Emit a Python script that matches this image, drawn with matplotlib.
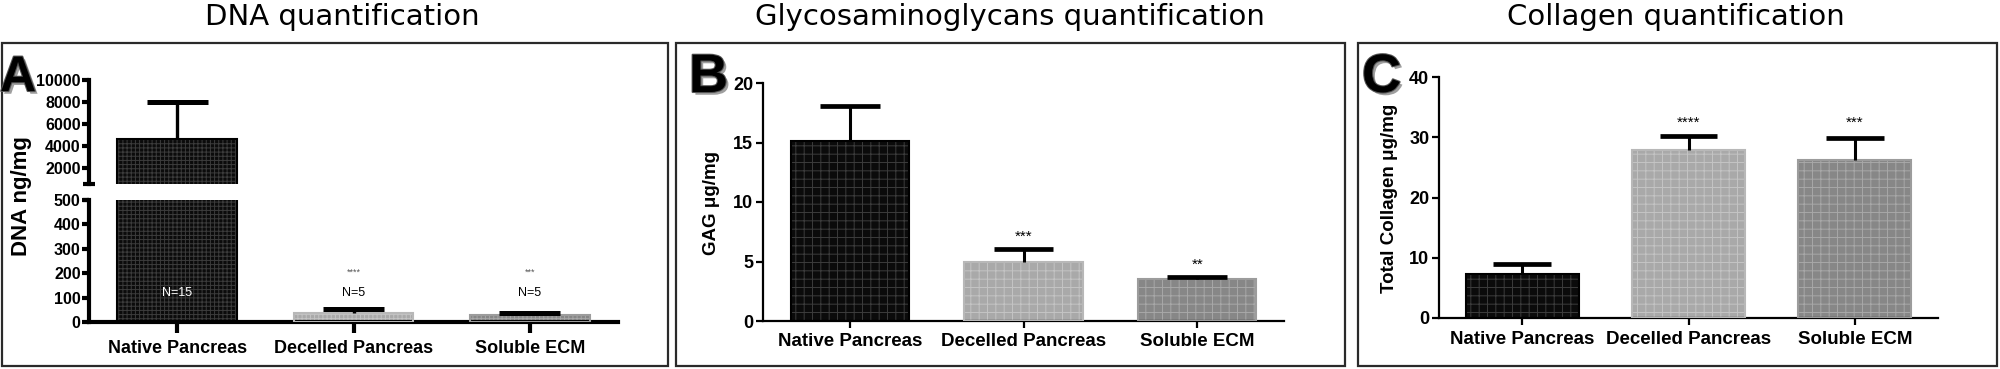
import matplotlib
matplotlib.use("Agg")
import matplotlib.pyplot as plt
import matplotlib.patheffects as pe
from matplotlib import font_manager
import numpy as np

plt.rcParams['font.family'] = ['Liberation Sans', 'DejaVu Sans']
plt.rcParams['hatch.linewidth'] = 0.7

# panel A uses a narrow bold face in the original; use it only if a bold one is installed
narrow_bold = [f.name for f in font_manager.fontManager.ttflist
               if f.name == 'Liberation Sans Narrow' and f.weight in ('bold', 700)]
if narrow_bold:
    NARROW, A_FS, A_XFS = 'Liberation Sans Narrow', 14.5, 14.5
else:
    NARROW, A_FS, A_XFS = 'Liberation Sans', 11.5, 13

groups = ["Native Pancreas", "Decelled Pancreas", "Soluble ECM"]

# DNA (ng/mg)
dna_mean = [4600, 38, 30]
dna_err = [3400, 16, 8]
dna_n = ["N=15", "N=5", "N=5"]
dna_stars = ["", "****", "***"]

# GAG (ug/mg)
gag_mean = [15.1, 4.93, 3.53]
gag_err = [2.95, 1.14, 0.14]
gag_stars = ["", "***", "**"]

# Collagen (ug/mg)
col_mean = [7.3, 27.9, 26.2]
col_err = [1.7, 2.3, 3.6]
col_stars = ["", "****", "***"]

fills = ['#0b0b0b', '#a9a9a9', '#878787']
grids = ['#3c3c3c', '#c4c4c4', '#a8a8a8']
borders = ['#000000', '#b8b8b8', '#9c9c9c']

W, H = 2000, 369
fig = plt.figure(figsize=(W / 100, H / 100), dpi=100)


def px_axes(x0, y0, x1, y1):
    return fig.add_axes([x0 / W, 1 - y1 / H, (x1 - x0) / W, (y1 - y0) / H])


def box(x0, y0, x1, y1):
    fig.add_artist(plt.Rectangle((x0 / W, 1 - y1 / H), (x1 - x0) / W, (y1 - y0) / H,
                                 transform=fig.transFigure, fill=False,
                                 edgecolor='#2a2a2a', lw=1.6))


def draw_bars(ax, means, errs, hatch, bw=0.68, cap=0.345, elw=2.2):
    x = np.arange(len(means))
    for i in x:
        ax.bar(i, means[i], width=bw, color=fills[i], edgecolor=grids[i],
               hatch=hatch, linewidth=0, zorder=2)
        ax.bar(i, means[i], width=bw, fill=False, edgecolor=borders[i],
               linewidth=1.5, zorder=3)
    tops = np.array(means) + np.array(errs)
    ax.vlines(x, means, tops, color='black', lw=elw, zorder=4)
    ax.hlines(tops, x - cap / 2, x + cap / 2, color='black', lw=elw + 1.2, zorder=4)


def style(ax, lw, tl, font, fs):
    for s in ['top', 'right']:
        ax.spines[s].set_visible(False)
    for s in ['left', 'bottom']:
        ax.spines[s].set_linewidth(lw)
    ax.patch.set_alpha(0)
    ax.tick_params(direction='out', length=tl, width=lw, pad=2)
    for lab in ax.get_yticklabels() + ax.get_xticklabels():
        lab.set_fontfamily([font, 'DejaVu Sans'])
        lab.set_fontweight('bold')
        lab.set_fontsize(fs)


def letter(x, y, s, fs=39):
    fig.text(x / W, 1 - y / H, s, fontsize=fs, fontweight='bold', ha='left', va='baseline',
             path_effects=[pe.withSimplePatchShadow(offset=(2, -2), shadow_rgbFace='#777777', alpha=0.7),
                           pe.withStroke(linewidth=1.5, foreground='#555555')])


# ---------------- boxes and titles ----------------
box(2, 43, 668, 366)
box(676, 43, 1345, 366)
box(1358, 43, 1997, 366)

for cx, t in [(342, "DNA quantification"), (1010, "Glycosaminoglycans quantification"),
              (1676, "Collagen quantification")]:
    fig.text(cx / W, 1 - 25 / H, t, fontsize=21, ha='center', va='baseline',
             family=['DejaVu Sans'])

# ---------------- Panel A (broken axis) ----------------
x = np.arange(3)
axu = px_axes(89, 80, 618, 184)
axl = px_axes(89, 200, 618, 322)
draw_bars(axu, dna_mean, dna_err, '++++', elw=2.4)
draw_bars(axl, dna_mean, dna_err, '++++', elw=2.4)
axu.set_ylim(500, 10000)
axl.set_ylim(0, 500)
for a in (axu, axl):
    a.set_xlim(-0.5, 2.5)
axu.set_yticks([2000, 4000, 6000, 8000, 10000])
axl.set_yticks([0, 100, 200, 300, 400, 500])
axu.set_xticks([])
axu.spines['bottom'].set_visible(False)
axl.set_xticks(x)
axl.set_xticklabels(groups)
style(axu, 3.0, 5, NARROW, A_FS)
style(axl, 3.0, 5, NARROW, A_FS)
axu.tick_params(axis='y', pad=1)
axl.tick_params(axis='y', pad=1)
axl.tick_params(axis='x', length=8, pad=5, labelsize=A_XFS)
# break caps on the y axis
axu.plot([-0.012, 0.012], [0, 0], transform=axu.transAxes, color='black', lw=3,
         clip_on=False, solid_capstyle='butt')
axl.plot([-0.012, 0.0], [1, 1], transform=axl.transAxes, color='black', lw=3,
         clip_on=False, solid_capstyle='butt')
for i in x:
    axl.text(i, 120, dna_n[i], ha='center', va='center', fontsize=9,
             family=[NARROW, 'DejaVu Sans'], color='white' if i == 0 else 'black', zorder=5)
    if dna_stars[i]:
        axl.text(i, 205, dna_stars[i], ha='center', va='center', fontsize=6.5,
                 color='#555555', zorder=5)
fig.text(22 / W, 1 - 196 / H, "DNA ng/mg", rotation=90, fontsize=16, fontweight='bold',
         ha='center', va='center')
letter(0, 91, "A", fs=36)

# ---------------- Panel B ----------------
axb = px_axes(763, 83, 1284, 321)
draw_bars(axb, gag_mean, gag_err, '++')
axb.set_xlim(-0.5, 2.5)
axb.set_ylim(0, 20)
axb.set_yticks([0, 5, 10, 15, 20])
axb.set_xticks(x)
axb.set_xticklabels(groups)
style(axb, 1.6, 5, 'Liberation Sans', 13)
axb.tick_params(axis='x', labelsize=13.5, pad=4)
for i in x:
    if gag_stars[i]:
        axb.text(i, gag_mean[i] + gag_err[i] + 0.45, gag_stars[i], ha='center', va='bottom',
                 fontsize=11)
fig.text(711 / W, 1 - 203 / H, "GAG μg/mg", rotation=90, fontsize=13.5, fontweight='bold',
         ha='center', va='center')
letter(689, 92, "B")

# ---------------- Panel C ----------------
axc = px_axes(1439, 77, 1938, 318)
draw_bars(axc, col_mean, col_err, '++')
axc.set_xlim(-0.5, 2.5)
axc.set_ylim(0, 40)
axc.set_yticks([0, 10, 20, 30, 40])
axc.set_xticks(x)
axc.set_xticklabels(groups)
style(axc, 1.6, 5, 'Liberation Sans', 13)
axc.tick_params(axis='x', labelsize=13.5, pad=4)
for i in x:
    if col_stars[i]:
        axc.text(i, 31.2, col_stars[i], ha='center', va='bottom', fontsize=11)
fig.text(1390 / W, 1 - 198 / H, "Total Collagen μg/mg", rotation=90, fontsize=13.5,
         fontweight='bold', ha='center', va='center')
letter(1362, 92, "C")

fig.savefig("out.png", dpi=100)
